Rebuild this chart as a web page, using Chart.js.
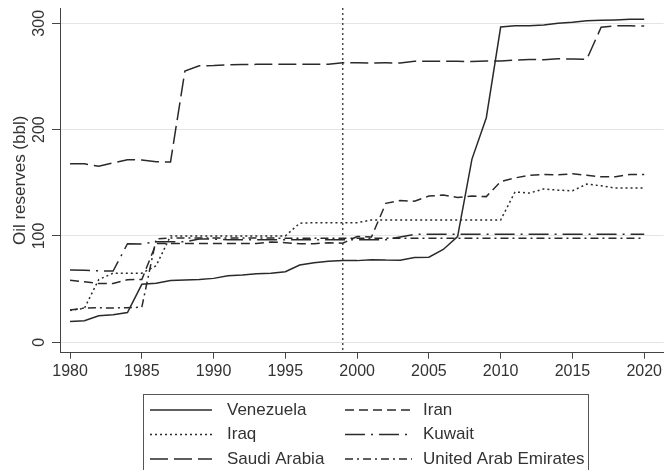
<!DOCTYPE html>
<html>
<head>
<meta charset="utf-8">
<script src="https://cdn.jsdelivr.net/npm/chart.js@4"></script>
<style>
  html, body { margin: 0; padding: 0; background: #fff; }
  #wrap { width: 665px; height: 470px; }
</style>
</head>
<body>
<div id="wrap"><canvas id="c" width="665" height="470"></canvas></div>
<script>
const years = [];
for (let y = 1980; y <= 2020; y++) years.push(y);

const venezuela = [19.5,20.3,24.9,25.9,28.0,54.5,55.5,58.1,58.5,59.0,60.1,62.6,63.3,64.4,64.9,66.3,72.7,74.9,76.1,76.8,76.8,77.7,77.3,77.2,79.7,80.0,87.3,99.4,172.3,211.2,296.5,297.6,297.7,298.3,300.0,300.9,302.3,302.8,303.2,303.8,303.8];
const iran = [58.3,57.0,55.3,55.3,58.9,59.0,92.9,92.9,92.9,92.9,92.9,92.9,92.9,92.9,94.3,93.7,92.6,92.6,93.7,93.1,99.5,99.1,130.7,133.3,132.7,137.5,138.4,136.2,137.6,137.0,151.2,154.6,157.0,157.8,157.5,158.4,157.2,155.6,155.6,157.8,157.8];
const iraq = [30,32,59,65,65,65,72,100,100,100,100,100,100,100,100,100,112,112.5,112.5,112.5,112.5,115,115,115,115,115,115,115,115,115,115,141.4,140.3,144.2,143.1,142.5,148.8,147.2,145.0,145.0,145.0];
const kuwait = [67.9,67.7,67.2,67.0,92.7,92.5,94.5,94.5,94.5,97.1,97.0,96.5,96.5,96.5,96.5,96.5,96.5,96.5,96.5,96.5,96.5,96.5,96.5,99.0,101.5,101.5,101.5,101.5,101.5,101.5,101.5,101.5,101.5,101.5,101.5,101.5,101.5,101.5,101.5,101.5,101.5];
const saudiArabia = [168.0,167.9,165.5,168.8,171.7,171.5,169.7,169.6,255.0,260.1,260.3,260.9,261.2,261.4,261.4,261.5,261.4,261.5,261.5,262.8,262.8,262.7,262.8,262.7,264.3,264.2,264.3,264.2,264.1,264.6,264.5,265.4,265.9,265.8,266.6,266.5,266.2,296.3,297.7,297.6,297.5];
const uae = [30.4,32.2,32.4,32.3,32.5,33.0,97.2,98.1,98.1,98.1,98.1,98.1,98.1,98.1,98.1,97.8,97.8,97.8,97.8,97.8,97.8,97.8,97.8,97.8,97.8,97.8,97.8,97.8,97.8,97.8,97.8,97.8,97.8,97.8,97.8,97.8,97.8,97.8,97.8,97.8,97.8];

const seriesNames = ['Venezuela','Iran','Iraq','Kuwait','Saudi Arabia','United Arab Emirates'];
const xTicks = [1980,1985,1990,1995,2000,2005,2010,2015,2020];
const yTicks = [0,100,200,300];
const markerYear = 1999;
const yTitle = 'Oil reserves (bbl)';

const seriesValues = [venezuela, iran, iraq, kuwait, saudiArabia, uae];
const dashes = [[], [9,5], [2,3], [20,6,2,6], [18,6], [8,4,2,4]];
const LINE = '#2a2a2a';

const datasets = seriesNames.map((name, i) => ({
  label: name,
  data: years.map((yr, j) => ({x: yr, y: seriesValues[i][j]})),
  borderColor: LINE,
  borderWidth: 1.5,
  borderDash: dashes[i],
  pointRadius: 0,
  tension: 0,
  fill: false
}));

const FONT = "'Liberation Sans', Arial, sans-serif";

const decor = {
  id: 'decor',
  afterDatasetsDraw(chart) {
    const {ctx, chartArea, scales} = chart;
    const x = scales.x.getPixelForValue(markerYear);
    ctx.save();
    ctx.strokeStyle = '#333';
    ctx.lineWidth = 1.3;
    ctx.setLineDash([2,3]);
    ctx.beginPath();
    ctx.moveTo(x, chartArea.top);
    ctx.lineTo(x, chartArea.bottom);
    ctx.stroke();
    ctx.restore();
  },
  afterDraw(chart) {
    const {ctx, scales} = chart;
    ctx.save();
    // y tick labels, rotated
    ctx.fillStyle = '#333';
    ctx.font = '16px ' + FONT;
    ctx.textAlign = 'center';
    ctx.textBaseline = 'middle';
    yTicks.forEach(v => {
      const py = scales.y.getPixelForValue(v);
      ctx.save();
      ctx.translate(40, py);
      ctx.rotate(-Math.PI / 2);
      ctx.fillText(String(v), 0, 0);
      ctx.restore();
    });
    // legend box
    ctx.strokeStyle = '#555';
    ctx.lineWidth = 1;
    ctx.setLineDash([]);
    ctx.strokeRect(143.5, 394.5, 445, 100);
    ctx.font = '17px ' + FONT;
    ctx.textAlign = 'left';
    ctx.textBaseline = 'middle';
    const rowsY = [410, 434.5, 459];
    const cols = [{x0: 150, x1: 212, tx: 227}, {x0: 345, x1: 412, tx: 423}];
    chart.data.datasets.forEach((ds, i) => {
      const col = cols[i % 2];
      const ry = rowsY[Math.floor(i / 2)];
      ctx.strokeStyle = ds.borderColor;
      ctx.lineWidth = ds.borderWidth;
      ctx.setLineDash(ds.borderDash);
      ctx.beginPath();
      ctx.moveTo(col.x0, ry);
      ctx.lineTo(col.x1, ry);
      ctx.stroke();
      ctx.setLineDash([]);
      ctx.fillStyle = '#333';
      ctx.fillText(ds.label, col.tx, ry);
    });
    ctx.restore();
  }
};

new Chart(document.getElementById('c'), {
  type: 'line',
  data: { datasets },
  options: {
    responsive: false,
    animation: false,
    layout: { padding: { top: 8, right: 0, bottom: 0, left: 0 } },
    plugins: { legend: { display: false }, tooltip: { enabled: false } },
    scales: {
      x: {
        type: 'linear',
        min: 1979.3,
        max: 2021.35,
        afterBuildTicks: s => { s.ticks = xTicks.map(v => ({value: v})); },
        afterFit: s => { s.height = 117.3; },
        ticks: {
          color: '#333',
          font: { family: FONT, size: 16 },
          padding: 3,
          maxRotation: 0,
          autoSkip: false,
          callback: v => String(v)
        },
        grid: { drawOnChartArea: false, drawTicks: true, tickLength: 6, tickColor: '#444', tickWidth: 1 },
        border: { color: '#444', width: 1 }
      },
      y: {
        type: 'linear',
        min: -9.8,
        max: 314.4,
        afterBuildTicks: s => { s.ticks = yTicks.map(v => ({value: v})); },
        afterFit: s => { s.width = 60; },
        ticks: { display: false },
        title: {
          display: true,
          text: yTitle,
          color: '#333',
          font: { family: FONT, size: 17 },
          padding: { top: 10, bottom: 0 }
        },
        grid: { color: '#e4e4e4', lineWidth: 1, drawTicks: true, tickLength: 8, tickColor: '#444', tickWidth: 1 },
        border: { color: '#444', width: 1 }
      }
    }
  },
  plugins: [decor]
});
</script>
</body>
</html>
